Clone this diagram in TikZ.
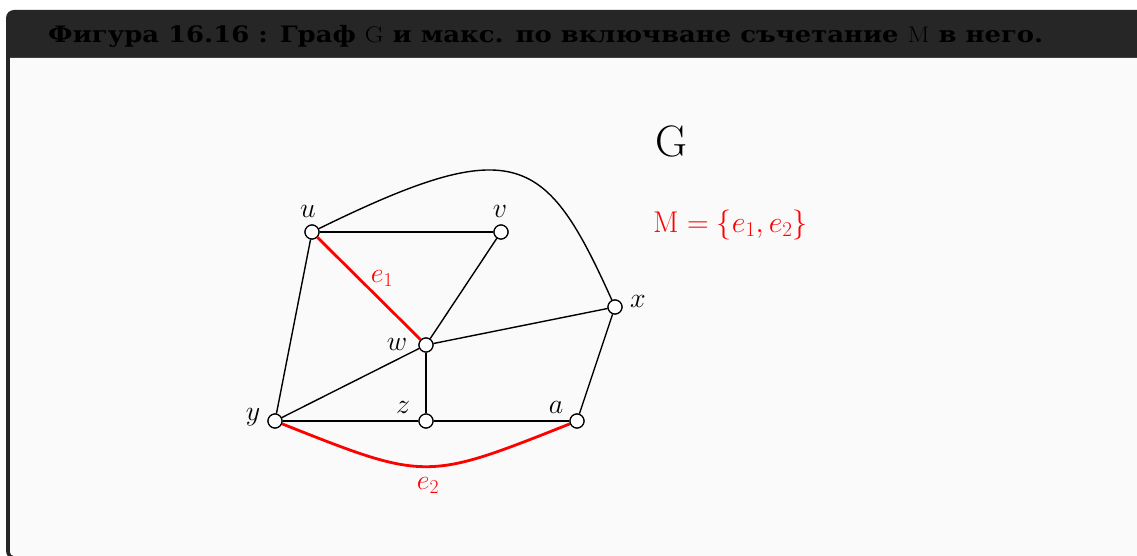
\RequirePackage{fix-cm}
\documentclass[tikz,border=0pt]{standalone}
\usepackage{fontspec}
\newfontfamily\titlefont{DejaVu Serif}
\definecolor{framedark}{HTML}{262626}
\definecolor{bodybg}{HTML}{FAFAFA}
\newsavebox\titlebox
\begin{document}
\sbox\titlebox{\titlefont\bfseries\fontsize{22.6}{27}\selectfont Фигура 16.16 : Граф $\mathrm{G}$ и макс. по включване съчетание $\mathrm{M}$ в него.}
\begin{tikzpicture}[x=1pt,y=-1pt,
  vtx/.style={circle,draw,fill=white,minimum size=14pt,inner sep=0pt,line width=1.2pt},
  edge/.style={line width=1.4pt,black},
  medge/.style={line width=2.8pt,red},
  lbl/.style={font=\fontsize{28}{33}\selectfont,inner sep=0pt,anchor=base},
  mlbl/.style={lbl,text=red}]
\useasboundingbox (0,0) rectangle (1137,556);
\fill[white] (0,0) rectangle (1137,556);
\fill[framedark,rounded corners=8pt] (6,10) rectangle (1170,559);
\fill[bodybg] (10,58) -- (1170,58) -- (1170,556) [rounded corners=4pt] -- (10,556) [sharp corners] -- cycle;
\pgfmathsetmacro\tsx{995/\wd\titlebox}
\node[anchor=base west,text=white,inner sep=0pt] (title) at (48,43)
  {\scalebox{\tsx}[1]{\usebox\titlebox}};
% vertices
\node[vtx] (u) at (312,232) {};
\node[vtx] (v) at (501,232) {};
\node[vtx] (w) at (426,345) {};
\node[vtx] (x) at (615,307) {};
\node[vtx] (y) at (275,421) {};
\node[vtx] (z) at (426,421) {};
\node[vtx] (a) at (577,421) {};
% edges
\draw[edge] (u) -- (v);
\draw[edge] (u) -- (y);
\draw[edge] (v) -- (w);
\draw[edge] (w) -- (x);
\draw[edge] (w) -- (y);
\draw[edge] (w) -- (z);
\draw[edge] (y) -- (z);
\draw[edge] (z) -- (a);
\draw[edge] (a) -- (x);
\draw[edge] (u) .. controls (516,132) and (546,154) .. (x);
\draw[medge] (u) -- (w);
\draw[medge] (y) .. controls (426,481) .. (a);
% redraw vertices on top
\foreach \n in {u,v,w,x,y,z,a} \node[vtx] at (\n) {};
% labels
\node[lbl] (lu) at (308,217) {$u$};
\node[lbl] (lv) at (500,218) {$v$};
\node[lbl] (lw) at (397,350) {$w$};
\node[lbl] (lx) at (638,307) {$x$};
\node[lbl] (ly) at (253,420) {$y$};
\node[lbl] (lz) at (403,413) {$z$};
\node[lbl] (la) at (556,413) {$a$};
\node[mlbl] (le1) at (382,282) {$e_1$};
\node[mlbl] (le2) at (428,489) {$e_2$};
\node[anchor=base west,inner sep=0pt,font=\fontsize{44}{50}\selectfont] (G) at (655,157) {$\mathrm{G}$};
\node[anchor=base west,inner sep=0pt,text=red,font=\fontsize{30}{36}\selectfont] (M) at (653,232) {$\mathrm{M}=\{e_1,e_2\}$};
\end{tikzpicture}
\end{document}
